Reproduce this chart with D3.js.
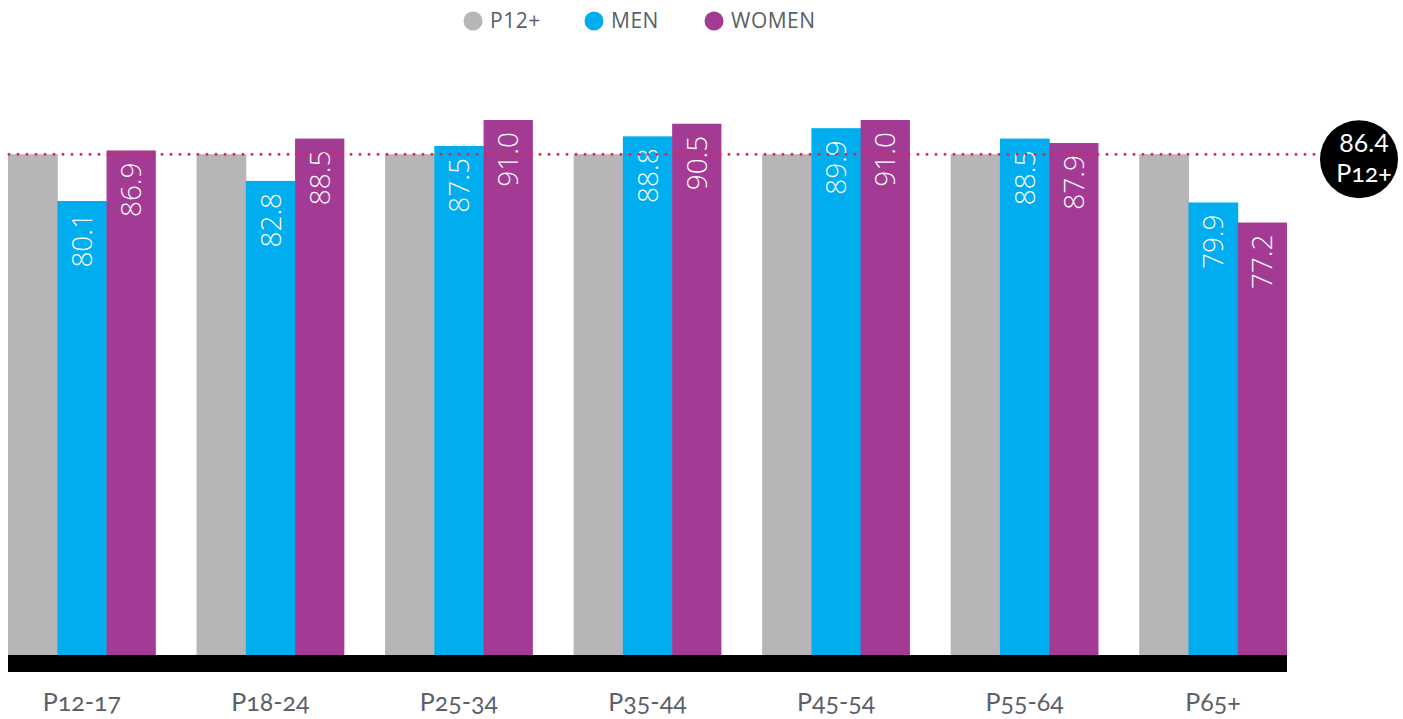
<!DOCTYPE html>
<html>
<head>
<meta charset="utf-8">
<script src="https://cdn.jsdelivr.net/npm/d3@7"></script>
<style>
    body { margin: 0; background: #fff; }
    .lbl { font-family: Lato, "Noto Sans", sans-serif; font-feature-settings: "onum" 1; font-variant-numeric: oldstyle-nums; }
</style>
</head>
<body>
<script>
    const ageGroups = ["P12-17", "P18-24", "P25-34", "P35-44", "P45-54", "P55-64", "P65+"];
    const seriesNames = ["P12+", "MEN", "WOMEN"];
    const p12Values = [86.4, 86.4, 86.4, 86.4, 86.4, 86.4, 86.4];
    const menValues = [80.1, 82.8, 87.5, 88.8, 89.9, 88.5, 79.9];
    const womenValues = [86.9, 88.5, 91.0, 90.5, 91.0, 87.9, 77.2];
    const averageValue = 86.4;
    const averageLabel = "P12+";

    const colors = { "P12+": "#b7b5b8", "MEN": "#00adee", "WOMEN": "#a33a94" };

    const svgWidth = 1403, svgHeight = 719;
    const baseY = 655;

    const svg = d3.select("body")
        .append("svg")
        .attr("width", svgWidth)
        .attr("height", svgHeight);

    const rows = ageGroups.map((g, i) => ({
        group: g,
        values: [
            { key: "P12+", value: p12Values[i] },
            { key: "MEN", value: menValues[i] },
            { key: "WOMEN", value: womenValues[i] }
        ]
    }));

    const xScale = d3.scaleBand()
        .domain(ageGroups)
        .range([8, 1287])
        .paddingInner(0.216)
        .paddingOuter(0);

    const xInner = d3.scaleBand()
        .domain(seriesNames)
        .range([0, xScale.bandwidth()]);

    // baseline is not zero in the original
    const yScale = d3.scaleLinear()
        .domain([19, 91])
        .range([baseY, 120]);

    // bars
    const groupSel = svg.selectAll("g.grp")
        .data(rows)
        .enter()
        .append("g")
        .attr("class", "grp")
        .attr("transform", d => `translate(${xScale(d.group)},0)`);

    groupSel.selectAll("rect")
        .data(d => d.values)
        .enter()
        .append("rect")
        .attr("x", d => xInner(d.key))
        .attr("width", (d, i) => xInner.bandwidth() + (i < 2 ? 0.5 : 0))
        .attr("y", d => yScale(d.value))
        .attr("height", d => baseY - yScale(d.value))
        .attr("fill", d => colors[d.key]);

    // value labels (men / women only)
    groupSel.selectAll("text.val")
        .data(d => d.values.filter(v => v.key !== "P12+"))
        .enter()
        .append("text")
        .attr("class", "val")
        .attr("transform", d => `translate(${xInner(d.key) + xInner.bandwidth() / 2},${yScale(d.value) + 12}) rotate(-90)`)
        .attr("text-anchor", "end")
        .attr("dy", "0.36em")
        .attr("fill", "#fff")
        .style("font-family", "'Open Sans', sans-serif")
        .style("font-weight", 300)
        .style("font-size", "28px")
        .text(d => d.value.toFixed(1));

    // average dotted line
    svg.append("line")
        .attr("x1", 9)
        .attr("x2", 1318)
        .attr("y1", yScale(averageValue))
        .attr("y2", yScale(averageValue))
        .attr("stroke", "#e2283e")
        .attr("stroke-width", 3)
        .attr("stroke-linecap", "round")
        .attr("stroke-dasharray", "0 9");

    // average badge
    const badge = svg.append("g")
        .attr("transform", `translate(1359,${yScale(averageValue) + 5})`);
    badge.append("circle")
        .attr("r", 39)
        .attr("fill", "#000");
    badge.append("text")
        .attr("x", 5)
        .attr("y", -7)
        .attr("text-anchor", "middle")
        .attr("fill", "#fff")
        .style("font-family", "Lato, sans-serif")
        .style("font-size", "25px")
        .text(averageValue.toFixed(1));
    badge.append("text")
        .attr("class", "lbl")
        .attr("x", 5)
        .attr("y", 23)
        .attr("text-anchor", "middle")
        .attr("fill", "#fff")
        .style("font-size", "25px")
        .text(averageLabel);

    // black base bar
    svg.append("rect")
        .attr("x", xScale.range()[0])
        .attr("y", baseY)
        .attr("width", xScale.range()[1] - xScale.range()[0])
        .attr("height", 17)
        .attr("fill", "#000");

    // x axis labels
    const xAxis = d3.axisBottom(xScale).tickSize(0).tickPadding(0);
    const axisG = svg.append("g")
        .attr("transform", `translate(0,${baseY + 17})`)
        .call(xAxis);
    axisG.select(".domain").remove();
    axisG.selectAll("text")
        .attr("class", "lbl")
        .attr("dy", 0)
        .attr("y", 39)
        .attr("fill", "#5a5f68")
        .style("font-size", "25px");

    // legend
    const legendX = [473, 594, 714];
    const legend = svg.selectAll("g.leg")
        .data(seriesNames)
        .enter()
        .append("g")
        .attr("class", "leg")
        .attr("transform", (d, i) => `translate(${legendX[i]},21)`);
    legend.append("circle")
        .attr("r", 9.5)
        .attr("fill", d => colors[d]);
    legend.append("text")
        .attr("x", 17)
        .attr("dy", "0.35em")
        .attr("fill", "#5a5f68")
        .style("font-family", "'Open Sans', sans-serif")
        .style("font-size", "21px")
        .style("letter-spacing", "0.5px")
        .text(d => d);
</script>
</body>
</html>
